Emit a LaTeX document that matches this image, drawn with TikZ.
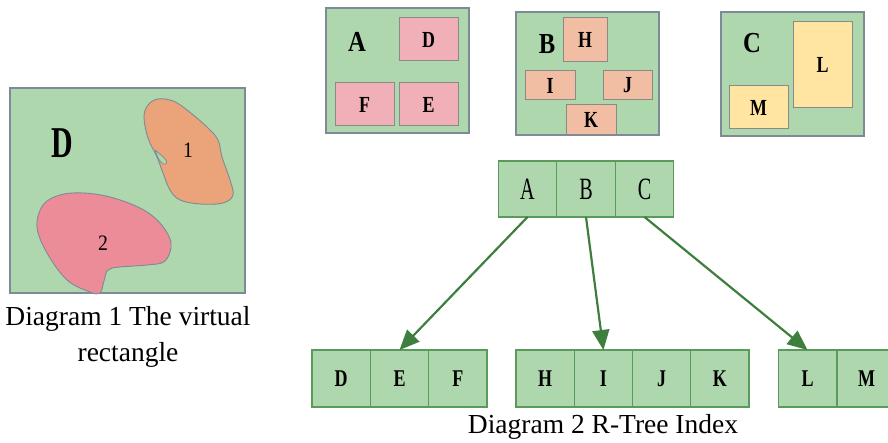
\documentclass[tikz,border=0pt]{standalone}
\usepackage{fontspec}
\setmainfont{Liberation Serif}
\usetikzlibrary{arrows.meta}
\definecolor{gfill}{HTML}{AFD7AE}
\definecolor{gborder}{HTML}{7E8A98}
\definecolor{nborder}{HTML}{5A9A5A}
\definecolor{iborder}{HTML}{8A8A8A}
\definecolor{pinkbox}{HTML}{F1B0B8}
\definecolor{orangebox}{HTML}{F2BEA3}
\definecolor{yellowbox}{HTML}{FFE4A2}
\definecolor{blobA}{HTML}{EBA47A}
\definecolor{blobB}{HTML}{EB8C98}
\definecolor{arrowgreen}{HTML}{3E7E3E}
\newcommand{\lbl}[3]{{\fontsize{#1}{#1}\selectfont\scalebox{#2}[1]{#3}}}
\tikzset{
  region/.style={draw=gborder, fill=gfill, line width=1.2pt, inner sep=0pt, outer sep=0pt},
  inner/.style={draw=iborder, line width=1pt, inner sep=0pt, outer sep=0pt},
  cell/.style={draw=nborder, fill=gfill, line width=1.2pt, inner sep=0pt, outer sep=0pt,
    minimum width=58.3pt, minimum height=57pt},
  rcell/.style={cell, minimum height=56pt},
  link/.style={draw=arrowgreen, line width=2.2pt, -{Triangle[length=20pt,width=17pt]}},
  captext/.style={inner sep=0pt, anchor=base, font=\fontsize{27.5}{35}\selectfont}
}
\begin{document}
\begin{tikzpicture}[x=1pt,y=-1pt]
\useasboundingbox (0,0) rectangle (888,443);
\clip (0,0) rectangle (888,443);
% Diagram 1
\node[region, minimum width=235pt, minimum height=205pt] (virt) at (127.5,190.5) {};
\filldraw[fill=blobA, draw=gborder, line width=0.9pt] plot[smooth cycle, tension=0.6] coordinates {
 (158,99) (173,101) (187,110) (207,127) (218,140) (222,157) (230,180) (233,195)
 (223,203) (200,204) (180,200) (170,190) (163,173) (157,157) (148,138) (144,117) (148,105)};
\filldraw[fill=gfill, draw=gborder, line width=0.8pt] (155,150) .. controls (162,156) and (169,161) .. (166,164) .. controls (162,166) and (158,159) .. (155,150);
\filldraw[fill=blobB, draw=gborder, line width=0.9pt] plot[smooth cycle, tension=0.6] coordinates {
 (83,193) (110,197) (140,208) (160,223) (171,243) (165,261) (147,265) (120,267)
 (108,270) (104,281) (100,293) (90,292) (67,280) (47,253) (37,227) (43,205) (60,195)};
\node (vD) at (62,143) {\lbl{44}{0.68}{\textbf{D}}};
\node (v1) at (188,150) {\lbl{22}{0.9}{1}};
\node (v2) at (103,243) {\lbl{22}{0.9}{2}};
\node[captext] (cap1) at (128,326) {Diagram 1 The virtual};
\node[captext] (cap1b) at (128,361) {rectangle};
% Region A
\node[region, minimum width=143pt, minimum height=125pt] (rA) at (397.5,70.5) {};
\node[inner, fill=pinkbox, minimum width=59pt, minimum height=43pt] (bD) at (428.5,39.5) {\lbl{23}{0.78}{\textbf{D}}};
\node[inner, fill=pinkbox, minimum width=59pt, minimum height=43pt] (bF) at (364.5,104.5) {\lbl{23}{0.78}{\textbf{F}}};
\node[inner, fill=pinkbox, minimum width=59pt, minimum height=43pt] (bE) at (428.5,104.5) {\lbl{23}{0.78}{\textbf{E}}};
\node (lA) at (357,42) {\lbl{29}{0.85}{\textbf{A}}};
% Region B
\node[region, minimum width=143pt, minimum height=123pt] (rB) at (587.5,73.5) {};
\node[inner, fill=orangebox, minimum width=44pt, minimum height=44pt] (bH) at (585,40) {\lbl{23}{0.78}{\textbf{H}}};
\node[inner, fill=orangebox, minimum width=50pt, minimum height=29pt] (bI) at (550,85.5) {\lbl{23}{0.78}{\textbf{I}}};
\node[inner, fill=orangebox, minimum width=49pt, minimum height=29pt] (bJ) at (627.5,85.5) {\lbl{23}{0.78}{\textbf{J}}};
\node[inner, fill=orangebox, minimum width=50pt, minimum height=30pt] (bK) at (591,120) {\lbl{23}{0.78}{\textbf{K}}};
\node (lB) at (547,44) {\lbl{29}{0.85}{\textbf{B}}};
% Region C
\node[region, minimum width=143pt, minimum height=124pt] (rC) at (792.5,74) {};
\node[inner, fill=yellowbox, minimum width=59pt, minimum height=86pt] (bL) at (822.5,65) {\lbl{23}{0.78}{\textbf{L}}};
\node[inner, fill=yellowbox, minimum width=59pt, minimum height=43pt] (bM) at (758.5,107.5) {\lbl{23}{0.78}{\textbf{M}}};
\node (lC) at (752,43) {\lbl{29}{0.85}{\textbf{C}}};
% Root
\node[rcell] (tA) at (527.5,189) {\lbl{31}{0.65}{A}};
\node[rcell] (tB) at (586,189) {\lbl{31}{0.65}{B}};
\node[rcell] (tC) at (644.5,189) {\lbl{31}{0.65}{C}};
% Leaves
\node[cell] (nD) at (341.2,378.5) {\lbl{24}{0.75}{\textbf{D}}};
\node[cell] (nE) at (399.5,378.5) {\lbl{24}{0.75}{\textbf{E}}};
\node[cell] (nF) at (457.8,378.5) {\lbl{24}{0.75}{\textbf{F}}};
\node[cell] (nH) at (545.1,378.5) {\lbl{24}{0.75}{\textbf{H}}};
\node[cell] (nI) at (603.4,378.5) {\lbl{24}{0.75}{\textbf{I}}};
\node[cell] (nJ) at (661.6,378.5) {\lbl{24}{0.75}{\textbf{J}}};
\node[cell] (nK) at (719.9,378.5) {\lbl{24}{0.75}{\textbf{K}}};
\node[cell] (nL) at (807.5,378.5) {\lbl{24}{0.75}{\textbf{L}}};
\node[cell] (nM) at (866.5,378.5) {\lbl{24}{0.75}{\textbf{M}}};
\node[captext] (cap2) at (603,433) {Diagram 2 R-Tree Index};
% Links
\draw[link] (tA.south) -- (nE.north);
\draw[link] (tB.south) -- (nI.north);
\draw[link] (tC.south) -- (nL.north);
\end{tikzpicture}
\end{document}
